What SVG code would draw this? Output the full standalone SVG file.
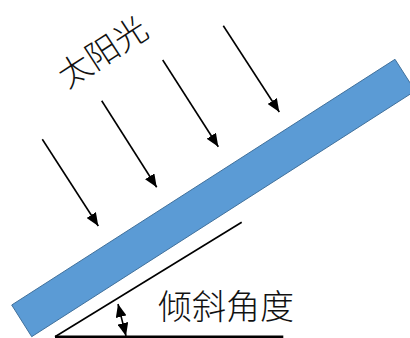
<svg xmlns="http://www.w3.org/2000/svg" width="410" height="338" viewBox="0 0 410 338">
<defs>
<marker id="ah" markerWidth="14" markerHeight="11" refX="13" refY="5.5" orient="auto" markerUnits="userSpaceOnUse">
<path d="M0,0 L13,5.5 L0,11 Z" fill="#000"/>
</marker>
<marker id="ahs" markerWidth="14" markerHeight="11" refX="13" refY="5.5" orient="auto-start-reverse" markerUnits="userSpaceOnUse">
<path d="M0,0 L13,5.5 L0,11 Z" fill="#000"/>
</marker>
</defs>
<style>
.ray{stroke:#000;stroke-width:1.6;fill:none;marker-end:url(#ah)}
.lbl{font-family:"Noto Sans CJK SC","Noto Sans CJK JP",sans-serif;fill:#111;font-weight:300}
</style>
<rect width="410" height="338" fill="#fff"/>
<g id="panel">
<polygon points="11.7,305 395,59.3 415.2,90.9 31.7,336.7" fill="#5B9BD5" stroke="#41719C" stroke-width="1"/>
</g>
<g id="sun-label">
<text class="lbl" x="109" y="62" font-size="33" text-anchor="middle" transform="rotate(-33 109 62)">太阳光</text>
</g>
<g id="angle-label">
<text class="lbl" x="226" y="319" font-size="34" text-anchor="middle">倾斜角度</text>
</g>
<g id="connectors">
<line class="ray" x1="42.3" y1="139.3" x2="98.3" y2="226"/>
<line class="ray" x1="101.7" y1="100.7" x2="156.7" y2="187.3"/>
<line class="ray" x1="162.7" y1="60" x2="218.3" y2="146.7"/>
<line class="ray" x1="223.3" y1="25.7" x2="279.3" y2="112"/>
<line x1="55" y1="336.7" x2="241.7" y2="222.3" stroke="#000" stroke-width="1.6"/>
<line x1="55" y1="336.8" x2="283.3" y2="336.8" stroke="#000" stroke-width="2.6"/>
<line x1="118" y1="304" x2="126" y2="336" stroke="#000" stroke-width="1.6" marker-start="url(#ahs)" marker-end="url(#ah)"/>
</g>
</svg>
